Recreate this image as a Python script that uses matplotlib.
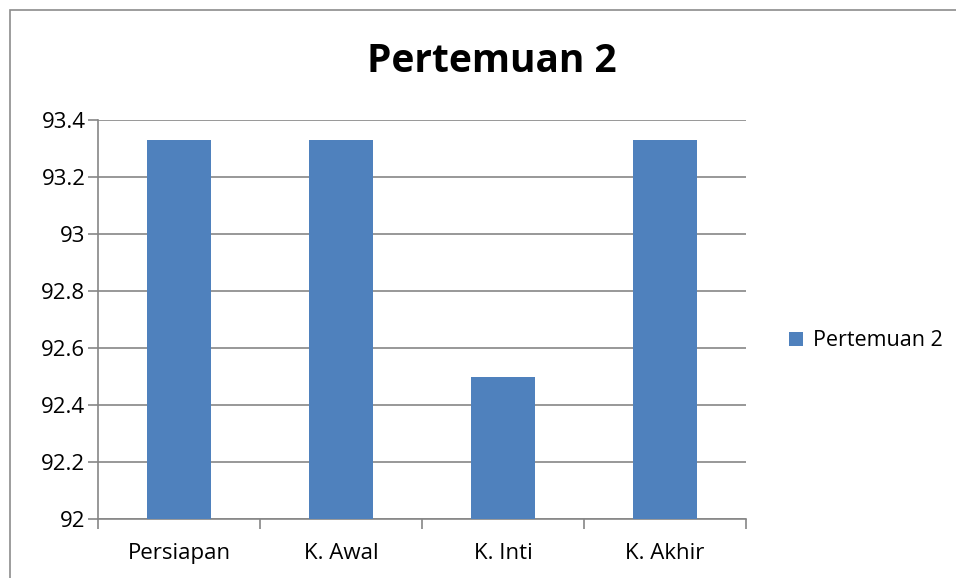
import matplotlib.pyplot as plt
from matplotlib.patches import Rectangle

categories = ["Persiapan", "K. Awal", "K. Inti", "K. Akhir"]
values = [93.33, 93.33, 92.5, 93.33]
series_name = "Pertemuan 2"
y_ticks = [92, 92.2, 92.4, 92.6, 92.8, 93, 93.2, 93.4]
y_tick_labels = ["92", "92.2", "92.4", "92.6", "92.8", "93", "93.2", "93.4"]

plt.rcParams["font.family"] = ["Open Sans", "DejaVu Sans"]

fig = plt.figure(figsize=(9.56, 5.78), dpi=100)
# outer chart border
fig.patches.append(Rectangle((10 / 956, -0.1), 1.1, 1.1 - 10 / 578,
                             transform=fig.transFigure, fill=False,
                             edgecolor="#8c8c8c", linewidth=1.2))

ax = fig.add_axes([98 / 956, 1 - 519 / 578, 648 / 956, 399 / 578])
x = range(len(categories))
ax.bar(x, values, width=0.4, color="#4F81BD", zorder=3, label=series_name)

ax.set_xlim(-0.5, len(categories) - 0.5)
ax.set_ylim(92, 93.4)
ax.set_yticks(y_ticks)
ax.set_yticklabels(y_tick_labels, fontsize=16)
ax.set_xticks(list(x))
ax.set_xticklabels(categories, fontsize=16)
ax.tick_params(axis="x", length=0, pad=17)
ax.set_xticks([i + 0.5 for i in range(-1, len(categories))], minor=True)
ax.tick_params(axis="x", which="minor", length=7, color="#868686", width=1.2)
ax.tick_params(axis="y", length=7, color="#868686", width=1.2, pad=2)

ax.yaxis.grid(True, color="#868686", linewidth=1.2, zorder=0)
for side in ["top", "right"]:
    ax.spines[side].set_visible(False)
for side in ["left", "bottom"]:
    ax.spines[side].set_color("#868686")
    ax.spines[side].set_linewidth(1.2)

fig.text(492 / 956, 1 - 62 / 578, "Pertemuan 2", ha="center", va="center",
         fontsize=28, fontweight="bold")

ax.legend(loc="center left", bbox_to_anchor=(770 / 956, 1 - 341 / 578),
          bbox_transform=fig.transFigure, frameon=False, fontsize=15.5,
          handlelength=0.65, handleheight=0.65, handletextpad=0.45)

fig.savefig("out.png", dpi=100)
